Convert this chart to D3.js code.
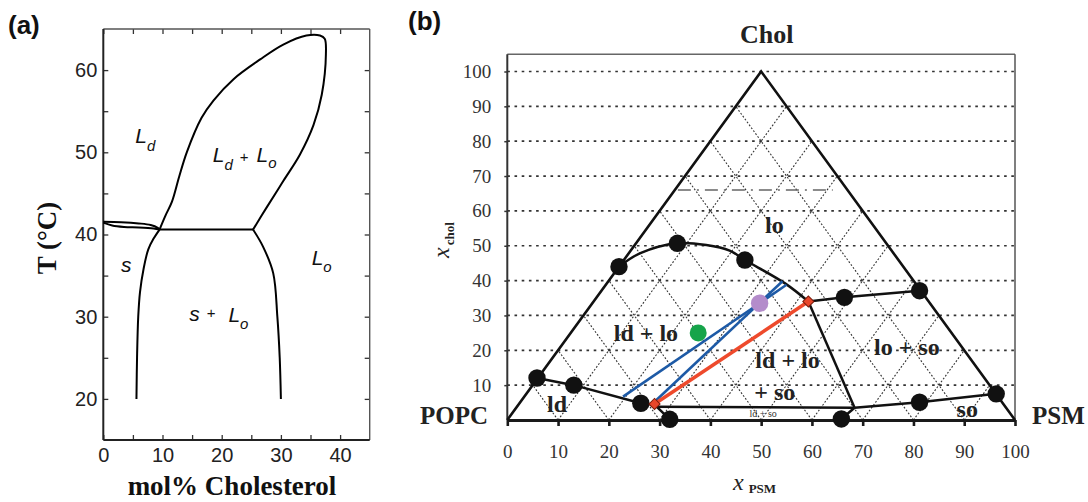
<!DOCTYPE html>
<html>
<head>
<meta charset="utf-8">
<script src="https://cdn.jsdelivr.net/npm/d3@7"></script>
<style>
  body { margin: 0; background: #fff; }
  svg { display: block; }
</style>
</head>
<body>
<svg id="fig" width="1088" height="502"></svg>
<script>
// ---------- Panel (a): DPPC / cholesterol temperature–composition diagram ----------
const aXTickLabels = [0, 10, 20, 30, 40];
const aYTickLabels = [20, 30, 40, 50, 60];
const aXTicks = [0, 5, 10, 15, 20, 25, 30, 35, 40];
const aYTicks = [20, 25, 30, 35, 40, 45, 50, 55, 60];

// [mol% cholesterol, T in °C]
const lensUpper = [[0, 41.55], [3, 41.5], [6, 41.35], [8, 41.15], [9.2, 40.8], [9.5, 40.6]];
const lensLower = [[0, 41.45], [1.5, 41.1], [3.5, 40.92], [6, 40.85], [8.5, 40.72], [9.5, 40.6]];
const solidusLeft = [[5.6, 20], [5.7, 25], [5.9, 30], [6.2, 33], [6.8, 35.8], [7.6, 38.2], [8.5, 39.5], [9.5, 40.6]];
const ldLoLoop = [
  [9.5, 40.6], [10.5, 42.3], [11.6, 44], [12.8, 47], [14.1, 50], [16.6, 54.2], [18.6, 56.3],
  [22, 58.9], [26.5, 61.3], [30.4, 63.1], [34.3, 64.2], [36.6, 64.2], [37.4, 63.8],
  [37.6, 61.9], [36.9, 57], [35.5, 53.3], [33.2, 49.7], [30.4, 46.5], [27.6, 43.3], [25.3, 40.6]
];
const eutecticLine = [[9.5, 40.6], [25.3, 40.6]];
const loBoundary = [[25.3, 40.6], [27, 38.5], [28.7, 35.3], [29.4, 30], [29.8, 25], [30, 20]];

// ---------- Panel (b): POPC / PSM / Chol ternary diagram ----------
const bXTicks = [0, 10, 20, 30, 40, 50, 60, 70, 80, 90, 100];
const bYTicks = [10, 20, 30, 40, 50, 60, 70, 80, 90, 100];
const bGridSteps = [10, 20, 30, 40, 50, 60, 70, 80, 90];

// [x_PSM axis position, x_chol]
const triangleEdge = [[0, 0], [50, 100], [100, 0]];
const phaseDots = [
  [5.85, 12.05], [13.1, 10.0], [26.3, 4.8], [32.0, 0.2],
  [22.0, 44.0], [33.5, 50.7], [46.8, 45.9],
  [66.4, 35.2], [81.2, 37.1], [96.3, 7.5], [81.2, 5.1], [65.8, 0.3]
];
const ldBoundary = [[5.85, 12.05], [13.1, 10.0], [26.3, 4.8], [29.0, 4.4], [32.0, 0.2]];
const ldSoTop = [[29.0, 3.8], [68.4, 3.5]];
const loDome = [[22.0, 44.0], [26.1, 47.8], [33.5, 50.7], [39.2, 50.2], [43.8, 48.6], [46.8, 45.9], [54.7, 39.2], [59.3, 34.0]];
const loSoTop = [[59.3, 34.0], [66.4, 35.2], [81.2, 37.1]];
const threePhaseRight = [[59.3, 34.0], [68.4, 3.5]];
const soBoundary = [[68.4, 3.5], [81.2, 5.1], [96.3, 7.5]];
const baseLink = [[65.8, 0.3], [68.4, 3.5]];
const dashDotLine = [[33.6, 66], [64.1, 66]];
const blueTies = [
  [[22.8, 6.7], [55.0, 38.8]],
  [[28.7, 4.8], [54.2, 39.8]]
];
const redTie = [[29.0, 4.6], [59.3, 34.0]];
const tieEnds = [[29.0, 4.6], [59.3, 34.0]];
const greenPoint = [37.6, 25.0];
const purplePoint = [49.7, 33.5];

// phase labels: [text, x, y]
const bLabels = [
  ["lo", 52.6, 53.7],
  ["ld + lo", 27.3, 22.8],
  ["ld + lo", 55.2, 14.8],
  ["+ so", 52.7, 5.7],
  ["lo + so", 78.7, 18.7],
  ["so", 90.6, 1.0],
  ["ld", 9.8, 2.4]
];

const svg = d3.select("#fig");
svg.append("rect").attr("width", 1088).attr("height", 502).attr("fill", "#fff");

// ====================== Panel (a) ======================
const xa = d3.scaleLinear().domain([0, 45]).range([103.3, 369.7]);
const ya = d3.scaleLinear().domain([15, 65]).range([440, 29]);
const ga = svg.append("g");

const lineA = d3.line().x(d => xa(d[0])).y(d => ya(d[1]));
const smoothA = d3.line().x(d => xa(d[0])).y(d => ya(d[1])).curve(d3.curveCatmullRom.alpha(0.5));

// ticks (inside, on all four sides)
const axA = [
  d3.axisBottom(xa).tickValues(aXTicks).tickSize(-5).tickSizeOuter(0).tickPadding(8)
    .tickFormat(d => aXTickLabels.includes(d) ? d : ""),
  d3.axisTop(xa).tickValues(aXTicks).tickSize(-5).tickSizeOuter(0).tickFormat(""),
  d3.axisLeft(ya).tickValues(aYTicks).tickSize(-5).tickSizeOuter(0).tickPadding(6)
    .tickFormat(d => aYTickLabels.includes(d) ? d : ""),
  d3.axisRight(ya).tickValues(aYTicks).tickSize(-5).tickSizeOuter(0).tickFormat("")
];
const axPos = [`translate(0,${ya(15)})`, `translate(0,${ya(65)})`, `translate(${xa(0)},0)`, `translate(${xa(45)},0)`];
axA.forEach((ax, i) => {
  const g = ga.append("g").attr("transform", axPos[i]).call(ax);
  g.select(".domain").remove();
  g.selectAll(".tick line").attr("stroke", "#333").attr("stroke-width", 1.3);
  g.selectAll(".tick text").attr("font-family", "Liberation Sans, Arial, sans-serif")
    .attr("font-size", 20).attr("fill", "#222");
});

// frame
ga.append("line").attr("x1", xa(0)).attr("x2", xa(45)).attr("y1", ya(65)).attr("y2", ya(65))
  .attr("stroke", "#555").attr("stroke-width", 1.4);
ga.append("line").attr("x1", xa(45)).attr("x2", xa(45)).attr("y1", ya(65)).attr("y2", ya(15))
  .attr("stroke", "#555").attr("stroke-width", 1.4);
ga.append("line").attr("x1", xa(0)).attr("x2", xa(0)).attr("y1", ya(65)).attr("y2", ya(15))
  .attr("stroke", "#222").attr("stroke-width", 2);
ga.append("line").attr("x1", xa(0)).attr("x2", xa(45)).attr("y1", ya(15)).attr("y2", ya(15))
  .attr("stroke", "#222").attr("stroke-width", 2.2);

// phase boundaries
const curvesA = [
  [lensUpper, smoothA], [lensLower, smoothA], [solidusLeft, smoothA],
  [ldLoLoop, smoothA], [eutecticLine, lineA], [loBoundary, smoothA]
];
curvesA.forEach(([data, gen]) => {
  ga.append("path").attr("d", gen(data)).attr("fill", "none")
    .attr("stroke", "#000").attr("stroke-width", 2).attr("stroke-linejoin", "round");
});

// phase labels (italic with subscripts)
const itFont = "Liberation Sans, Arial, sans-serif";
function phaseA(x, y, parts) {
  const t = ga.append("text").attr("x", xa(x)).attr("y", ya(y))
    .attr("font-family", itFont).attr("fill", "#111");
  parts.forEach(p => {
    t.append("tspan").attr("dx", p.dx || 0).attr("dy", p.dy || 0)
      .attr("font-size", p.size).attr("font-style", p.upright ? "normal" : "italic").text(p.t);
  });
}
phaseA(5.4, 51.1, [{ t: "L", size: 21 }, { t: "d", size: 15, dy: 8 }]);
phaseA(18.5, 48.8, [{ t: "L", size: 21 }, { t: "d", size: 15, dy: 8 },
  { t: "+", size: 15, dy: -8, dx: 7, upright: true }, { t: "L", size: 21, dx: 8 }, { t: "o", size: 15, dy: 6 }]);
phaseA(3.0, 35.4, [{ t: "s", size: 21 }]);
phaseA(35.2, 36.3, [{ t: "L", size: 21 }, { t: "o", size: 15, dy: 7 }]);
phaseA(14.5, 29.5, [{ t: "s", size: 21 }, { t: "+", size: 15, dx: 7, dy: -3, upright: true },
  { t: "L", size: 21, dx: 13, dy: 4 }, { t: "o", size: 15, dy: 7 }]);

// axis titles
ga.append("text").attr("transform", "translate(56,238) rotate(-90)")
  .attr("text-anchor", "middle").attr("font-family", "Liberation Serif, Times New Roman, serif")
  .attr("font-weight", "bold").attr("font-size", 27).attr("fill", "#111").text("T (°C)");
ga.append("text").attr("x", 232).attr("y", 495).attr("text-anchor", "middle")
  .attr("font-family", "Liberation Serif, Times New Roman, serif").attr("font-weight", "bold")
  .attr("font-size", 27).attr("fill", "#111").text("mol% Cholesterol");

// ====================== Panel (b) ======================
const xb = d3.scaleLinear().domain([0, 100]).range([507.3, 1015]);
const yb = d3.scaleLinear().domain([0, 100]).range([420, 71.5]);
const gb = svg.append("g");
const lineB = d3.line().x(d => xb(d[0])).y(d => yb(d[1]));
const smoothB = d3.line().x(d => xb(d[0])).y(d => yb(d[1])).curve(d3.curveCatmullRom.alpha(0.5));
const serif = "Liberation Serif, Times New Roman, serif";

// horizontal dotted grid
gb.append("g").selectAll("line").data(bYTicks).join("line")
  .attr("x1", xb(0)).attr("x2", xb(100)).attr("y1", d => yb(d)).attr("y2", d => yb(d))
  .attr("stroke", "#333").attr("stroke-width", 1.7).attr("stroke-dasharray", "2.6 4.6");

// triangular lattice inside the triangle
const lattice = [];
bGridSteps.forEach(k => {
  lattice.push([[k, 0], [50 + k / 2, 100 - k]]);
  lattice.push([[k, 0], [k / 2, k]]);
});
gb.append("g").selectAll("path").data(lattice).join("path")
  .attr("d", d => lineB(d)).attr("fill", "none")
  .attr("stroke", "#333").attr("stroke-width", 1.1).attr("stroke-dasharray", "1.8 1.8");

// dash-dot guide
gb.append("path").attr("d", lineB(dashDotLine)).attr("stroke", "#666").attr("stroke-width", 1.5)
  .attr("stroke-dasharray", "13 6 2 6").attr("fill", "none");

// frame
gb.append("line").attr("x1", xb(0)).attr("x2", xb(100)).attr("y1", 54.3).attr("y2", 54.3)
  .attr("stroke", "#666").attr("stroke-width", 1.5);
gb.append("line").attr("x1", xb(100)).attr("x2", xb(100)).attr("y1", 54.3).attr("y2", yb(0))
  .attr("stroke", "#555").attr("stroke-width", 1.5);
gb.append("line").attr("x1", xb(0)).attr("x2", xb(0)).attr("y1", 54.3).attr("y2", yb(0))
  .attr("stroke", "#333").attr("stroke-width", 2);

// axes
const axBx = gb.append("g").attr("transform", `translate(0,${yb(0)})`)
  .call(d3.axisBottom(xb).tickValues(bXTicks).tickSize(6).tickSizeOuter(0).tickPadding(19));
axBx.select(".domain").attr("stroke", "#1a1a1a").attr("stroke-width", 3);
axBx.selectAll(".tick line").attr("stroke", "#1a1a1a").attr("stroke-width", 2.6);
const axBy = gb.append("g").attr("transform", `translate(${xb(0)},0)`)
  .call(d3.axisLeft(yb).tickValues(bYTicks).tickSize(3).tickSizeOuter(0).tickPadding(13));
axBy.select(".domain").remove();
axBy.selectAll(".tick line").attr("stroke", "#333").attr("stroke-width", 1.5);
[axBx, axBy].forEach(g => g.selectAll(".tick text")
  .attr("font-family", serif).attr("font-size", 19).attr("fill", "#333"));

// triangle outline
gb.append("path").attr("d", lineB(triangleEdge)).attr("fill", "none")
  .attr("stroke", "#111").attr("stroke-width", 2.6).attr("stroke-linejoin", "miter");

// phase boundaries
[[ldBoundary, lineB], [ldSoTop, lineB], [loDome, smoothB], [loSoTop, lineB],
 [threePhaseRight, lineB], [soBoundary, lineB], [baseLink, lineB]].forEach(([data, gen]) => {
  gb.append("path").attr("d", gen(data)).attr("fill", "none")
    .attr("stroke", "#111").attr("stroke-width", 2.5).attr("stroke-linejoin", "round");
});

// tie lines
gb.selectAll(".blue-tie").data(blueTies).join("path").attr("class", "blue-tie")
  .attr("d", d => lineB(d)).attr("stroke", "#1d5aa6").attr("stroke-width", 2.6).attr("fill", "none");
gb.append("path").attr("d", lineB(redTie)).attr("stroke", "#ee4a2c")
  .attr("stroke-width", 3.6).attr("fill", "none");

// composition points
gb.selectAll(".pdot").data(phaseDots).join("circle").attr("class", "pdot")
  .attr("cx", d => xb(d[0])).attr("cy", d => yb(d[1])).attr("r", 8.7).attr("fill", "#111");
gb.append("circle").attr("cx", xb(greenPoint[0])).attr("cy", yb(greenPoint[1])).attr("r", 8.5)
  .attr("fill", "#16a44a");
gb.append("circle").attr("cx", xb(purplePoint[0])).attr("cy", yb(purplePoint[1])).attr("r", 8.7)
  .attr("fill", "#b48ccb");
gb.selectAll(".tie-end").data(tieEnds).join("path").attr("class", "tie-end")
  .attr("d", d3.symbol(d3.symbolSquare, 62)())
  .attr("transform", d => `translate(${xb(d[0])},${yb(d[1])}) rotate(45)`)
  .attr("fill", "#e8462a").attr("stroke", "#7a1a0a").attr("stroke-width", 1);

// phase labels
gb.selectAll(".plabel").data(bLabels).join("text").attr("class", "plabel")
  .attr("x", d => xb(d[1])).attr("y", d => yb(d[2])).attr("text-anchor", "middle")
  .attr("font-family", serif).attr("font-weight", "bold").attr("font-size", 24)
  .attr("fill", "#222").attr("xml:space", "preserve").text(d => d[0]);
gb.append("text").attr("x", xb(50.4)).attr("y", yb(0.8)).attr("text-anchor", "middle")
  .attr("font-family", serif).attr("font-size", 10).attr("fill", "#333").text("ld + so");

// vertex and axis titles
const vFont = g => g.attr("font-family", serif).attr("font-weight", "bold").attr("fill", "#222");
gb.append("text").attr("x", 740).attr("y", 43).attr("font-size", 26).call(vFont).text("Chol");
gb.append("text").attr("x", 420).attr("y", 424).attr("font-size", 25).call(vFont).text("POPC");
gb.append("text").attr("x", 1032).attr("y", 424).attr("font-size", 25).call(vFont).text("PSM");

const yTitle = gb.append("text").attr("transform", "translate(449,258) rotate(-90)")
  .attr("font-family", serif).attr("fill", "#222");
yTitle.append("tspan").attr("font-style", "italic").attr("font-size", 24).text("x");
yTitle.append("tspan").attr("font-weight", "bold").attr("font-size", 13).attr("dx", 2).attr("dy", 5).text("chol");

const xTitle = gb.append("text").attr("x", 733).attr("y", 490)
  .attr("font-family", serif).attr("fill", "#222");
xTitle.append("tspan").attr("font-style", "italic").attr("font-size", 24).text("x");
xTitle.append("tspan").attr("font-weight", "bold").attr("font-size", 13).attr("dx", 5).attr("dy", 3).text("PSM");

// panel letters
svg.append("text").attr("x", 8).attr("y", 34).attr("font-family", "Liberation Sans, Arial, sans-serif")
  .attr("font-weight", "bold").attr("font-size", 26).attr("fill", "#111").text("(a)");
svg.append("text").attr("x", 408).attr("y", 30).attr("font-family", "Liberation Sans, Arial, sans-serif")
  .attr("font-weight", "bold").attr("font-size", 26).attr("fill", "#111").text("(b)");
</script>
</body>
</html>
